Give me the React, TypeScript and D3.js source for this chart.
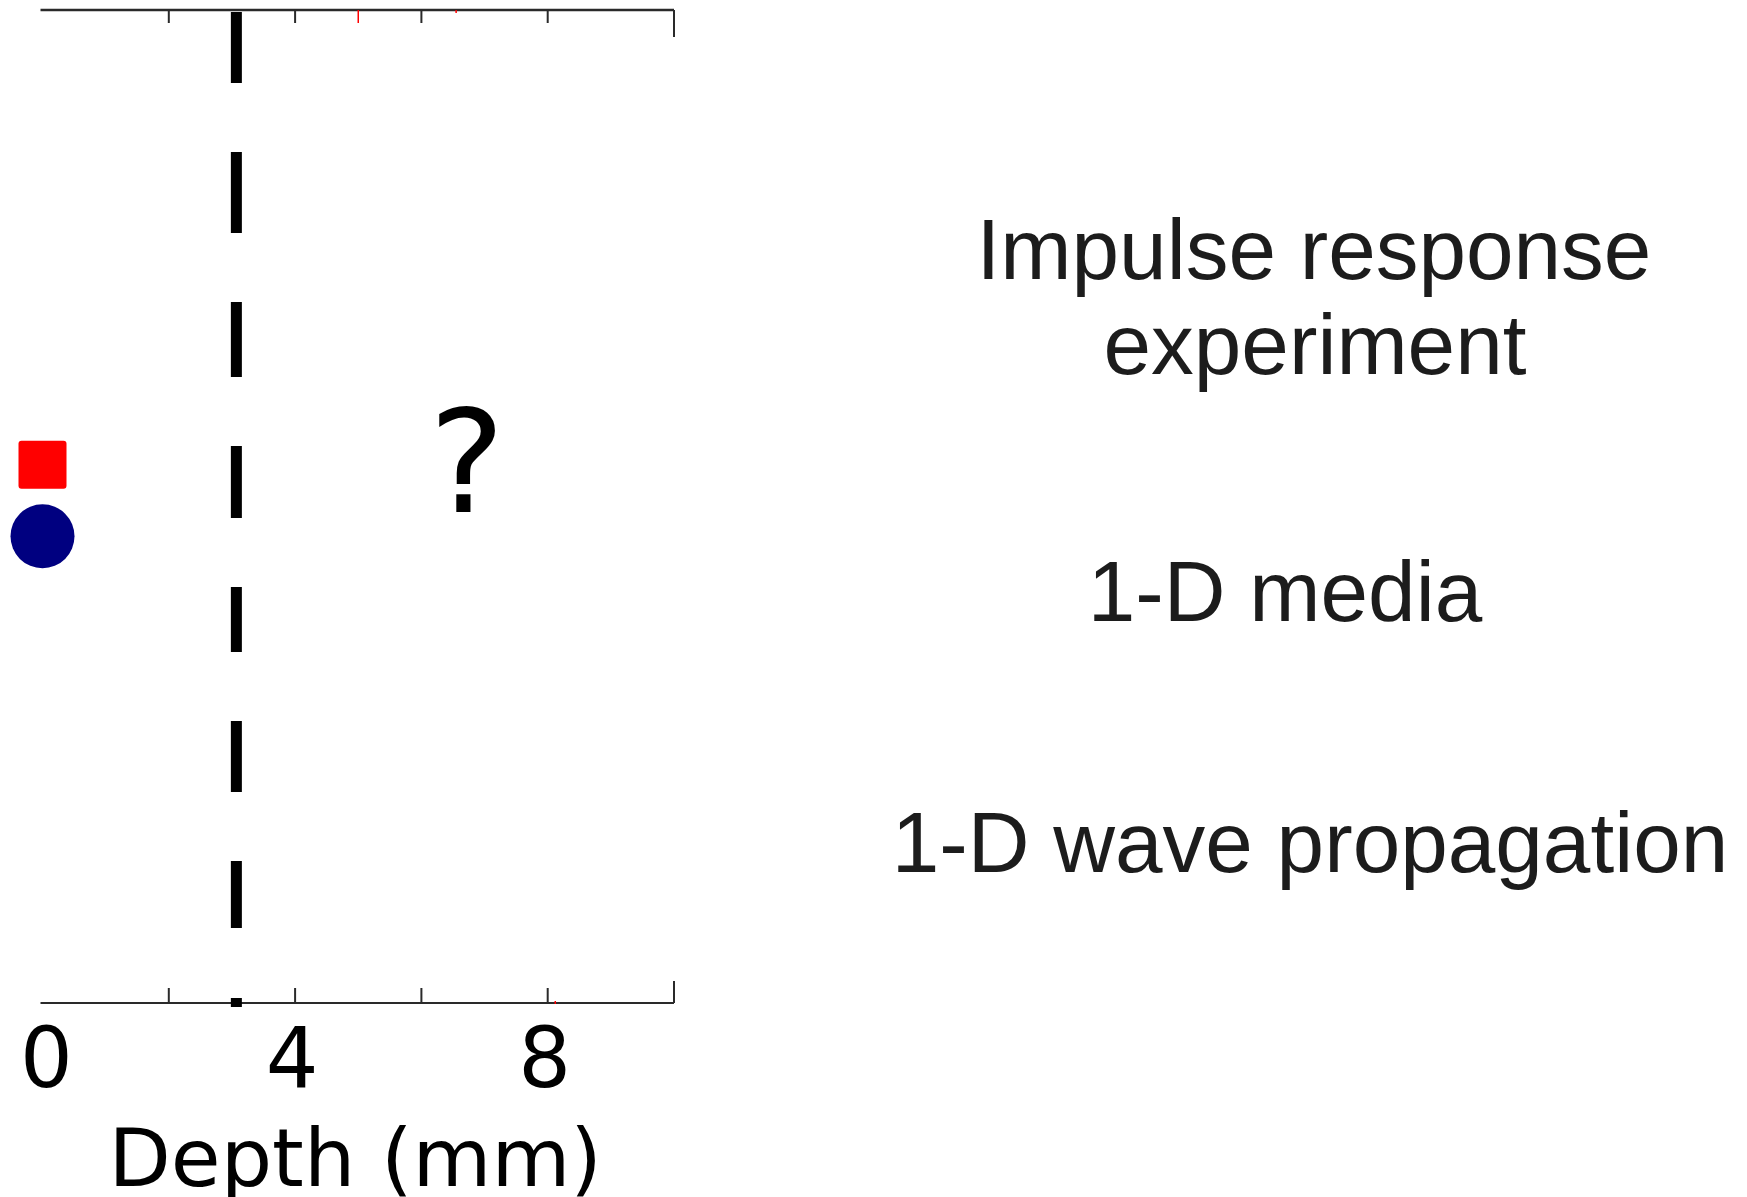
import React from "react";
import * as d3 from "d3";

// ---- data ----
const depthDomain = [0, 10];
const innerTicks = [2, 4, 6, 8];
const endTick = [10];
const tickLabels = [0, 4, 8];
const boundaryDepth = [3.07];
const markerShapes = ["square", "circle"];
const markerDepths = [0, 0];
const markerRows = [45.8, 53.0];
const markerColors = ["#ff0000", "#000080"];
const questionDepth = [6.72];
const questionRow = [50.6];
const redTopTicks = [5.0];
const redTopDots = [6.55];
const redBottomDots = [8.12];
const rightLines = ["Impulse response", "experiment", "1-D media", "1-D wave propagation"];
const rightCenters = [1314, 1315, 1285, 1310];
const rightBaselines = [279, 374, 621, 872];
const xAxisTitle = "Depth (mm)";

const W = 1747;
const H = 1197;

export default function App() {
  const x = d3.scaleLinear().domain(depthDomain).range([42.5, 674]);
  const y = d3.scaleLinear().domain([0, 100]).range([10, 1003]);
  const topY = y(0);
  const botY = y(100);
  const axisColor = "#2a2a2a";
  const dejavu = "'DejaVu Sans', sans-serif";
  const liberation = "'Liberation Sans', Arial, sans-serif";

  return (
    <div style={{ position: "absolute", left: 0, top: 0 }}>
      <svg width={W} height={H} viewBox={`0 0 ${W} ${H}`} style={{ display: "block", background: "#fff" }}>
        {/* top axis */}
        <line x1={x(0) - 2} x2={x(10)} y1={topY} y2={topY} stroke={axisColor} strokeWidth={2.6} />
        {innerTicks.map((t) => (
          <line key={"tt" + t} x1={x(t)} x2={x(t)} y1={topY} y2={topY + 13} stroke={axisColor} strokeWidth={2} />
        ))}
        {endTick.map((t) => (
          <line key={"te" + t} x1={x(t)} x2={x(t)} y1={topY} y2={topY + 27} stroke={axisColor} strokeWidth={2} />
        ))}
        {redTopTicks.map((t) => (
          <line key={"rt" + t} x1={x(t)} x2={x(t)} y1={topY} y2={topY + 13} stroke="#ff0000" strokeWidth={1.5} />
        ))}
        {redTopDots.map((t) => (
          <line key={"rd" + t} x1={x(t)} x2={x(t)} y1={topY} y2={topY + 3} stroke="#ff0000" strokeWidth={1.5} />
        ))}

        {/* bottom axis */}
        <line x1={x(0) - 2} x2={x(10)} y1={botY} y2={botY} stroke={axisColor} strokeWidth={2.2} />
        {innerTicks.map((t) => (
          <line key={"bt" + t} x1={x(t)} x2={x(t)} y1={botY} y2={botY - 15} stroke={axisColor} strokeWidth={2} />
        ))}
        {endTick.map((t) => (
          <line key={"be" + t} x1={x(t)} x2={x(t)} y1={botY} y2={botY - 22} stroke={axisColor} strokeWidth={2} />
        ))}
        {redBottomDots.map((t) => (
          <line key={"rb" + t} x1={x(t)} x2={x(t)} y1={botY - 2} y2={botY + 1} stroke="#ff0000" strokeWidth={1.5} />
        ))}
        {tickLabels.map((t) => (
          <text key={"tl" + t} x={x(t) + (t === 0 ? 4 : -3)} y={1087} textAnchor="middle" fontFamily={dejavu} fontSize={83} fill="#000">
            {t}
          </text>
        ))}
        <text x={(x(0) + x(10)) / 2 - 3} y={1186} textAnchor="middle" fontFamily={dejavu} fontSize={81} fill="#000">
          {xAxisTitle}
        </text>

        {/* boundary dashed line */}
        {boundaryDepth.map((d) => (
          <line
            key={"bd" + d}
            x1={x(d)}
            x2={x(d)}
            y1={12}
            y2={1007}
            stroke="#000"
            strokeWidth={11}
            strokeDasharray="71 69 81 69 75 69 72 69 65 69 71 69 67 70 9 200"
          />
        ))}

        {/* source / receiver markers */}
        {markerShapes.map((s, i) =>
          s === "square" ? (
            <rect
              key={"m" + i}
              x={x(markerDepths[i]) - 24}
              y={y(markerRows[i]) - 24}
              width={48}
              height={48}
              rx={3}
              fill={markerColors[i]}
            />
          ) : (
            <circle key={"m" + i} cx={x(markerDepths[i])} cy={y(markerRows[i])} r={32} fill={markerColors[i]} />
          )
        )}

        {/* question mark */}
        {questionDepth.map((d, i) => (
          <text key={"q" + i} x={x(d)} y={y(questionRow[i])} textAnchor="middle" fontFamily={dejavu} fontSize={143} fill="#000">
            ?
          </text>
        ))}

        {/* right-hand text */}
        {rightLines.map((s, i) => (
          <text key={"r" + i} x={rightCenters[i]} y={rightBaselines[i]} textAnchor="middle" fontFamily={liberation} fontSize={85.5} fill="#1c1c1c">
            {s}
          </text>
        ))}
      </svg>
    </div>
  );
}
